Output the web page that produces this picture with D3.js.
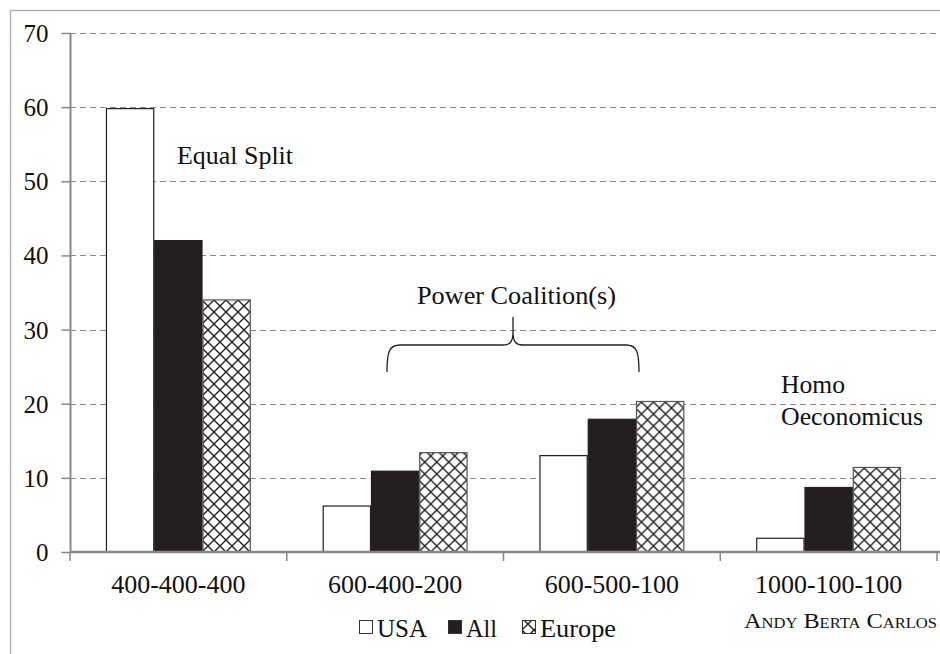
<!DOCTYPE html>
<html>
<head>
<meta charset="utf-8">
<script src="https://cdn.jsdelivr.net/npm/d3@7"></script>
</head>
<body style="margin:0;padding:0;background:#fff">
<svg id="chart" width="940" height="654" style="display:block"></svg>
<script>
const categories = ["400-400-400", "600-400-200", "600-500-100", "1000-100-100"];
const seriesNames = ["USA", "All", "Europe"];
const usaValues = [59.8, 6.2, 13.0, 1.85];
const allValues = [42.0, 10.9, 17.9, 8.7];
const europeValues = [34.0, 13.4, 20.3, 11.4];
const yTicks = [0, 10, 20, 30, 40, 50, 60, 70];

const seriesValues = { USA: usaValues, All: allValues, Europe: europeValues };

const svg = d3.select("#chart");
const W = 940, H = 654;
const margin = { left: 70, right: 3, top: 33, bottom: 102 };
const BASE = 22; // render text at this size and scale up

function numWidth(str, size) {
  let w = 0;
  for (const ch of String(str)) w += (ch === "-" ? 0.333 : 0.5);
  return w * size;
}
// place a serif text at (x,y) with an apparent size, drawn at BASE size and scaled
function serifAt(sel, x, y, size, len) {
  const s = size / BASE;
  sel.attr("x", 0).attr("y", 0)
    .attr("transform", (d, i, n) => {
      const xx = typeof x === "function" ? x(d, i, n) : x;
      const yy = typeof y === "function" ? y(d, i, n) : y;
      return `translate(${xx},${yy}) scale(${s})`;
    })
    .style("font-family", '"Liberation Serif", serif')
    .style("font-size", BASE + "px")
    .attr("fill", "#111");
  if (len) {
    sel.attr("lengthAdjust", "spacingAndGlyphs")
      .attr("textLength", (d, i, n) => (typeof len === "function" ? len(d, i, n) : len) / s);
  }
  return sel;
}

// pattern
const defs = svg.append("defs");
const pat = defs.append("pattern")
  .attr("id", "xhatch").attr("patternUnits", "userSpaceOnUse")
  .attr("width", 12).attr("height", 12);
pat.append("rect").attr("width", 12).attr("height", 12).attr("fill", "#fff");
pat.append("path").attr("d", "M0,0 L12,12 M12,0 L0,12")
  .attr("stroke", "#222").attr("stroke-width", 1.4).attr("fill", "none");

// outer frame
svg.append("rect").attr("x", 10.5).attr("y", 10.5)
  .attr("width", W + 20).attr("height", H + 20)
  .attr("fill", "none").attr("stroke", "#aaa").attr("stroke-width", 1.3);

const y = d3.scaleLinear().domain([0, 70]).range([H - margin.bottom, margin.top]);
const x0 = d3.scaleBand().domain(categories).range([margin.left, W - margin.right]).paddingInner(0).paddingOuter(0);
const x1 = d3.scaleBand().domain(seriesNames).range([0, x0.bandwidth()]).paddingInner(0).paddingOuter(0.745);

// gridlines
svg.append("g").selectAll("line").data(yTicks.filter(d => d > 0)).join("line")
  .attr("x1", margin.left).attr("x2", W)
  .attr("y1", d => Math.round(y(d)) + 0.5).attr("y2", d => Math.round(y(d)) + 0.5)
  .attr("stroke", "#8a8a8a").attr("stroke-width", 1.2).attr("stroke-dasharray", "6,4");

// y axis
const yAxis = d3.axisLeft(y).tickValues(yTicks).tickSize(9).tickPadding(13).tickFormat(d3.format("d"));
const gy = svg.append("g").attr("transform", `translate(${margin.left + 0.5},0)`).call(yAxis);
gy.attr("font-family", null).attr("font-size", null);
gy.select(".domain").attr("stroke", "#888").attr("stroke-width", 2).attr("d", `M0,${y(70)}V${y(0)}`);
gy.selectAll(".tick line").attr("stroke", "#888").attr("stroke-width", 1.5);
serifAt(gy.selectAll(".tick text"), -22, 0, 25, d => numWidth(d, 25))
  .attr("text-anchor", "end").attr("dy", "0.34em");

// bars
const groups = svg.append("g").selectAll("g").data(categories).join("g")
  .attr("transform", d => `translate(${x0(d)},0)`);
groups.selectAll("rect").data((c, i) => seriesNames.map(s => ({ s, v: seriesValues[s][i] }))).join("rect")
  .attr("x", d => x1(d.s) + 0.5)
  .attr("width", x1.bandwidth() - 1)
  .attr("y", d => y(d.v))
  .attr("height", d => y(0) - y(d.v))
  .attr("fill", d => d.s === "USA" ? "#fff" : d.s === "All" ? "#231f20" : "url(#xhatch)")
  .attr("stroke", d => d.s === "Europe" ? "#555" : "#231f20")
  .attr("stroke-width", 1.2);

// x axis
const xAxis = d3.axisBottom(x0).tickSize(0).tickPadding(22);
const gx = svg.append("g").attr("transform", `translate(0,${y(0)})`).call(xAxis);
gx.attr("font-family", null).attr("font-size", null);
gx.select(".domain").attr("stroke", "#888").attr("stroke-width", 2.5).attr("d", `M${margin.left},0H${W}`);
serifAt(gx.selectAll(".tick text"), 0, 41, 26, d => numWidth(d, 26))
  .attr("text-anchor", "middle").attr("dy", null);
// boundary ticks
const bounds = categories.map(c => x0(c)).concat([x0.range()[1]]);
svg.append("g").selectAll("line").data(bounds).join("line")
  .attr("x1", d => d).attr("x2", d => d)
  .attr("y1", y(0)).attr("y2", y(0) + 9)
  .attr("stroke", "#888").attr("stroke-width", 1.5);

// annotations
serifAt(svg.append("text").text("Equal Split"), 177, 164, 26, 116);
serifAt(svg.append("text").text("Power Coalition(s)"), 417, 304, 26, 199);
serifAt(svg.append("text").text("Homo"), 781, 393, 26, 64);
serifAt(svg.append("text").text("Oeconomicus"), 781, 425, 26, 142);

svg.append("path")
  .attr("d", "M387,372 C387,352 389,345 400,345 L503,345 C510,345 513,342 513,332 L513,317 M513,332 C513,342 516,345 523,345 L626,345 C637,345 639,352 639,372")
  .attr("fill", "none").attr("stroke", "#222").attr("stroke-width", 1.3);

serifAt(svg.append("text").style("font-variant", "small-caps").text("Andy Berta Carlos"), 744, 628, 22, 193);

// legend
const legendItems = [
  { s: "USA", x: 359, w: 50 },
  { s: "All", x: 448, w: 31 },
  { s: "Europe", x: 522, w: 76 }
];
legendItems.forEach(it => {
  svg.append("rect").attr("x", it.x + 0.5).attr("y", 620.5).attr("width", 13).attr("height", 13)
    .attr("fill", it.s === "USA" ? "#fff" : it.s === "All" ? "#231f20" : "url(#xhatch)")
    .attr("stroke", "#333").attr("stroke-width", 1);
  serifAt(svg.append("text").text(it.s), it.x + 18, 637, 25, it.w);
});
</script>
</body>
</html>
